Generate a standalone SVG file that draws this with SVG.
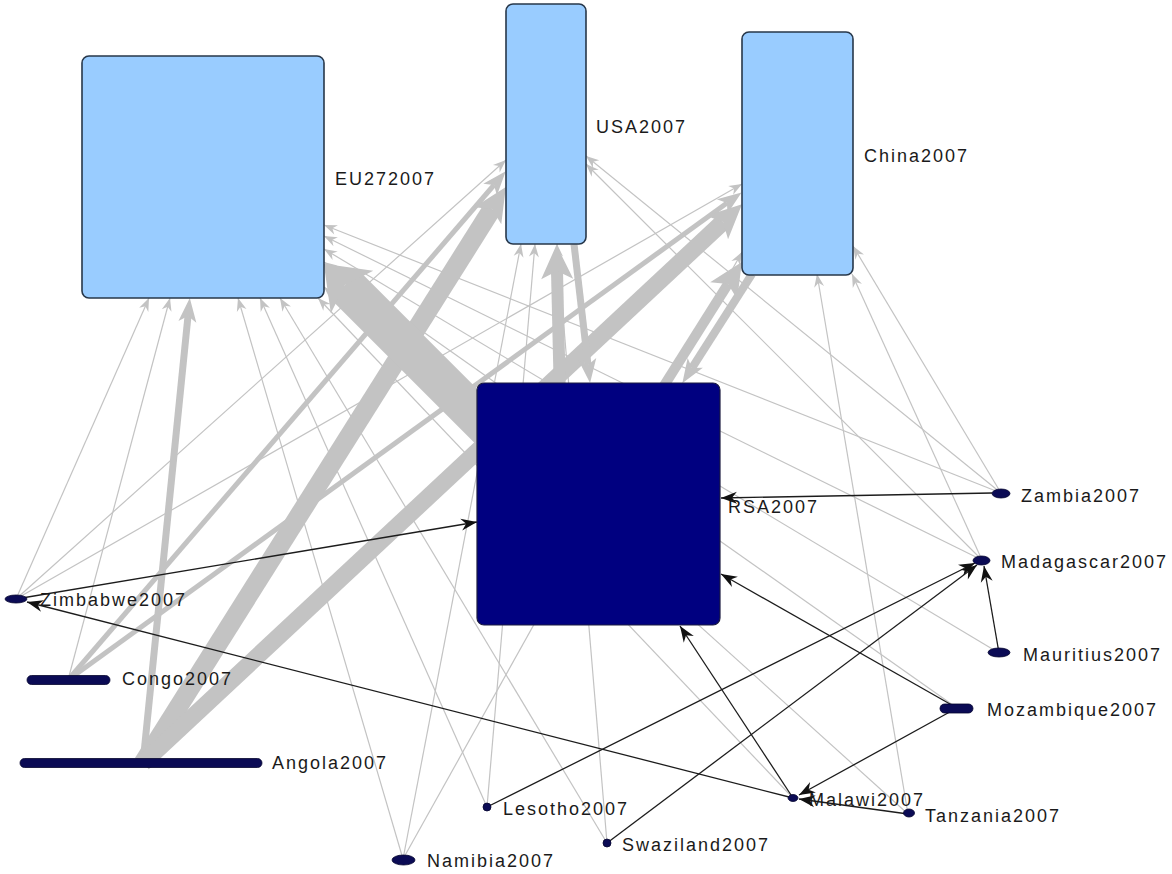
<svg xmlns="http://www.w3.org/2000/svg" width="1172" height="874" viewBox="0 0 1172 874">
<defs>
<style>
.g{stroke:#c3c3c3;stroke-width:1.2;fill:none;marker-end:url(#mg)}
.gm{stroke:#c3c3c3;fill:none;marker-end:url(#mgm)}
.gl{stroke:#c3c3c3;fill:none;marker-end:url(#mgl)}
.gx{stroke:#c3c3c3;fill:none;marker-end:url(#mgx)}
.k{stroke:#1c1c1c;stroke-width:1.3;fill:none;marker-end:url(#mk)}
.hub{fill:#99ccff;stroke:#27374a;stroke-width:1.6}
.rsa{fill:#000080;stroke:#1c1c40;stroke-width:1.2}
.dot{fill:#0b0b55;stroke:#05052e;stroke-width:0.8}
text{font-family:"Liberation Sans",Arial,sans-serif;font-size:18px;letter-spacing:2px;fill:#1a1a1a}
</style>
<marker id="mg" markerUnits="userSpaceOnUse" viewBox="-14 -6 15 12" refX="0" refY="0" markerWidth="15" markerHeight="12" orient="auto"><path d="M0,0 L-13,-5 L-9,0 L-13,5 Z" fill="#c3c3c3"/></marker>
<marker id="mgm" markerUnits="userSpaceOnUse" viewBox="-25 -10 26 20" refX="-18" refY="0" markerWidth="26" markerHeight="20" orient="auto"><path d="M0,0 L-24,-9 L-18,0 L-24,9 Z" fill="#c3c3c3"/></marker>
<marker id="mgl" markerUnits="userSpaceOnUse" viewBox="-35 -17 36 34" refX="-26" refY="0" markerWidth="36" markerHeight="34" orient="auto"><path d="M0,0 L-34,-16 L-26,0 L-34,16 Z" fill="#c3c3c3"/></marker>
<marker id="mgx" markerUnits="userSpaceOnUse" viewBox="-41 -31 42 62" refX="-30" refY="0" markerWidth="42" markerHeight="62" orient="auto"><path d="M0,0 L-40,-30 L-30,0 L-40,30 Z" fill="#c3c3c3"/></marker>
<marker id="mk" markerUnits="userSpaceOnUse" viewBox="-17 -7 18 14" refX="0" refY="0" markerWidth="18" markerHeight="14" orient="auto"><path d="M0,0 L-16,-6 L-11,0 L-16,6 Z" fill="#111"/></marker>
</defs>
<rect width="1172" height="874" fill="#ffffff"/>

<g id="connectors">
  <!-- thin trade links to the hubs -->
  <line class="g" x1="16" y1="599" x2="149" y2="298"/>
  <line class="g" x1="68" y1="680" x2="170" y2="298"/>
  <line class="g" x1="403" y1="859" x2="238" y2="298"/>
  <line class="g" x1="487" y1="807" x2="260" y2="298"/>
  <line class="g" x1="607" y1="843" x2="280" y2="298"/>
  <line class="g" x1="793" y1="798" x2="318" y2="298"/>
  <line class="g" x1="908" y1="814" x2="324" y2="287"/>
  <line class="g" x1="957" y1="708" x2="324" y2="262"/>
  <line class="g" x1="999" y1="653" x2="324" y2="249"/>
  <line class="g" x1="982" y1="560" x2="324" y2="236"/>
  <line class="g" x1="1001" y1="493" x2="324" y2="225"/>
  <line class="g" x1="16" y1="599" x2="506" y2="160"/>
  <line class="g" x1="403" y1="859" x2="521" y2="244"/>
  <line class="g" x1="487" y1="807" x2="535" y2="244"/>
  <line class="g" x1="607" y1="843" x2="557" y2="244"/>
  <line class="g" x1="982" y1="560" x2="586" y2="164"/>
  <line class="g" x1="1001" y1="493" x2="586" y2="156"/>
  <line class="g" x1="16" y1="599" x2="742" y2="184"/>
  <line class="g" x1="403" y1="859" x2="742" y2="252"/>
  <line class="g" x1="908" y1="814" x2="817" y2="274"/>
  <line class="g" x1="982" y1="560" x2="852" y2="274"/>
  <line class="g" x1="1001" y1="493" x2="853" y2="246"/>

  <!-- heavy trade links -->
  <line class="gm" stroke-width="5" x1="68" y1="680" x2="494" y2="185"/>
  <line class="gm" stroke-width="5" x1="68" y1="680" x2="727" y2="203"/>
  <line class="gm" stroke-width="7" x1="143" y1="763" x2="188" y2="316"/>
  <line class="gl" stroke-width="19" x1="143" y1="763" x2="492" y2="209"/>
  <line class="gl" stroke-width="17" x1="143" y1="763" x2="723" y2="222"/>
  <line class="gl" stroke-width="12" x1="560" y1="400" x2="557" y2="271"/>
  <line class="gm" stroke-width="7" x1="574" y1="244" x2="588" y2="365"/>
  <line class="gl" stroke-width="10" x1="655" y1="400" x2="728" y2="284"/>
  <line class="gm" stroke-width="8" x1="752" y1="274" x2="692" y2="368"/>
  <line class="gx" stroke-width="40" x1="505" y1="445" x2="345" y2="285"/>

  <!-- regional links -->
  <line class="k" x1="992" y1="493" x2="721" y2="498"/>
  <line class="k" x1="16" y1="599" x2="477" y2="522"/>
  <line class="k" x1="793" y1="798" x2="27" y2="602"/>
  <line class="k" x1="793" y1="798" x2="680" y2="626"/>
  <line class="k" x1="957" y1="708" x2="721" y2="574"/>
  <line class="k" x1="957" y1="708" x2="799" y2="795"/>
  <line class="k" x1="908" y1="814" x2="799" y2="799"/>
  <line class="k" x1="487" y1="807" x2="975" y2="563"/>
  <line class="k" x1="607" y1="843" x2="977" y2="565"/>
  <line class="k" x1="999" y1="653" x2="984" y2="566"/>
</g>

<g id="EU272007"><rect class="hub" x="82" y="56" width="242" height="242" rx="7"/><text x="335" y="185">EU272007</text></g>
<g id="USA2007"><rect class="hub" x="506" y="4" width="80" height="240" rx="7"/><text x="596" y="133">USA2007</text></g>
<g id="China2007"><rect class="hub" x="742" y="32" width="111" height="243" rx="7"/><text x="864" y="162">China2007</text></g>
<g id="RSA2007"><rect class="rsa" x="477" y="383" width="243" height="242" rx="7"/><text x="728" y="513">RSA2007</text></g>

<g id="Zambia2007"><ellipse class="dot" cx="1001" cy="493.5" rx="9" ry="4.5"/><text x="1021" y="502">Zambia2007</text></g>
<g id="Madagascar2007"><ellipse class="dot" cx="981.5" cy="560.5" rx="8.5" ry="4.5"/><text x="1001" y="568">Madagascar2007</text></g>
<g id="Mauritius2007"><ellipse class="dot" cx="999" cy="652.5" rx="11" ry="4.5"/><text x="1023" y="661">Mauritius2007</text></g>
<g id="Mozambique2007"><rect class="dot" x="940" y="704" width="33" height="9" rx="4.5"/><text x="987" y="716">Mozambique2007</text></g>
<g id="Malawi2007"><ellipse class="dot" cx="793" cy="798" rx="5" ry="3.5"/><text x="809" y="806">Malawi2007</text></g>
<g id="Tanzania2007"><ellipse class="dot" cx="909" cy="813" rx="5.5" ry="4"/><text x="925" y="822">Tanzania2007</text></g>
<g id="Lesotho2007"><circle class="dot" cx="487" cy="807" r="4"/><text x="503" y="815">Lesotho2007</text></g>
<g id="Swaziland2007"><circle class="dot" cx="607" cy="843" r="4"/><text x="622" y="851">Swaziland2007</text></g>
<g id="Namibia2007"><ellipse class="dot" cx="403.5" cy="860" rx="11.5" ry="5"/><text x="427" y="867">Namibia2007</text></g>
<g id="Zimbabwe2007"><ellipse class="dot" cx="16" cy="599" rx="11" ry="4"/><text x="40" y="606">Zimbabwe2007</text></g>
<g id="Congo2007"><rect class="dot" x="27" y="675.5" width="83" height="9" rx="4.5"/><text x="122" y="685">Congo2007</text></g>
<g id="Angola2007"><rect class="dot" x="20" y="758.5" width="242" height="9" rx="4.5"/><text x="272" y="769">Angola2007</text></g>
</svg>
